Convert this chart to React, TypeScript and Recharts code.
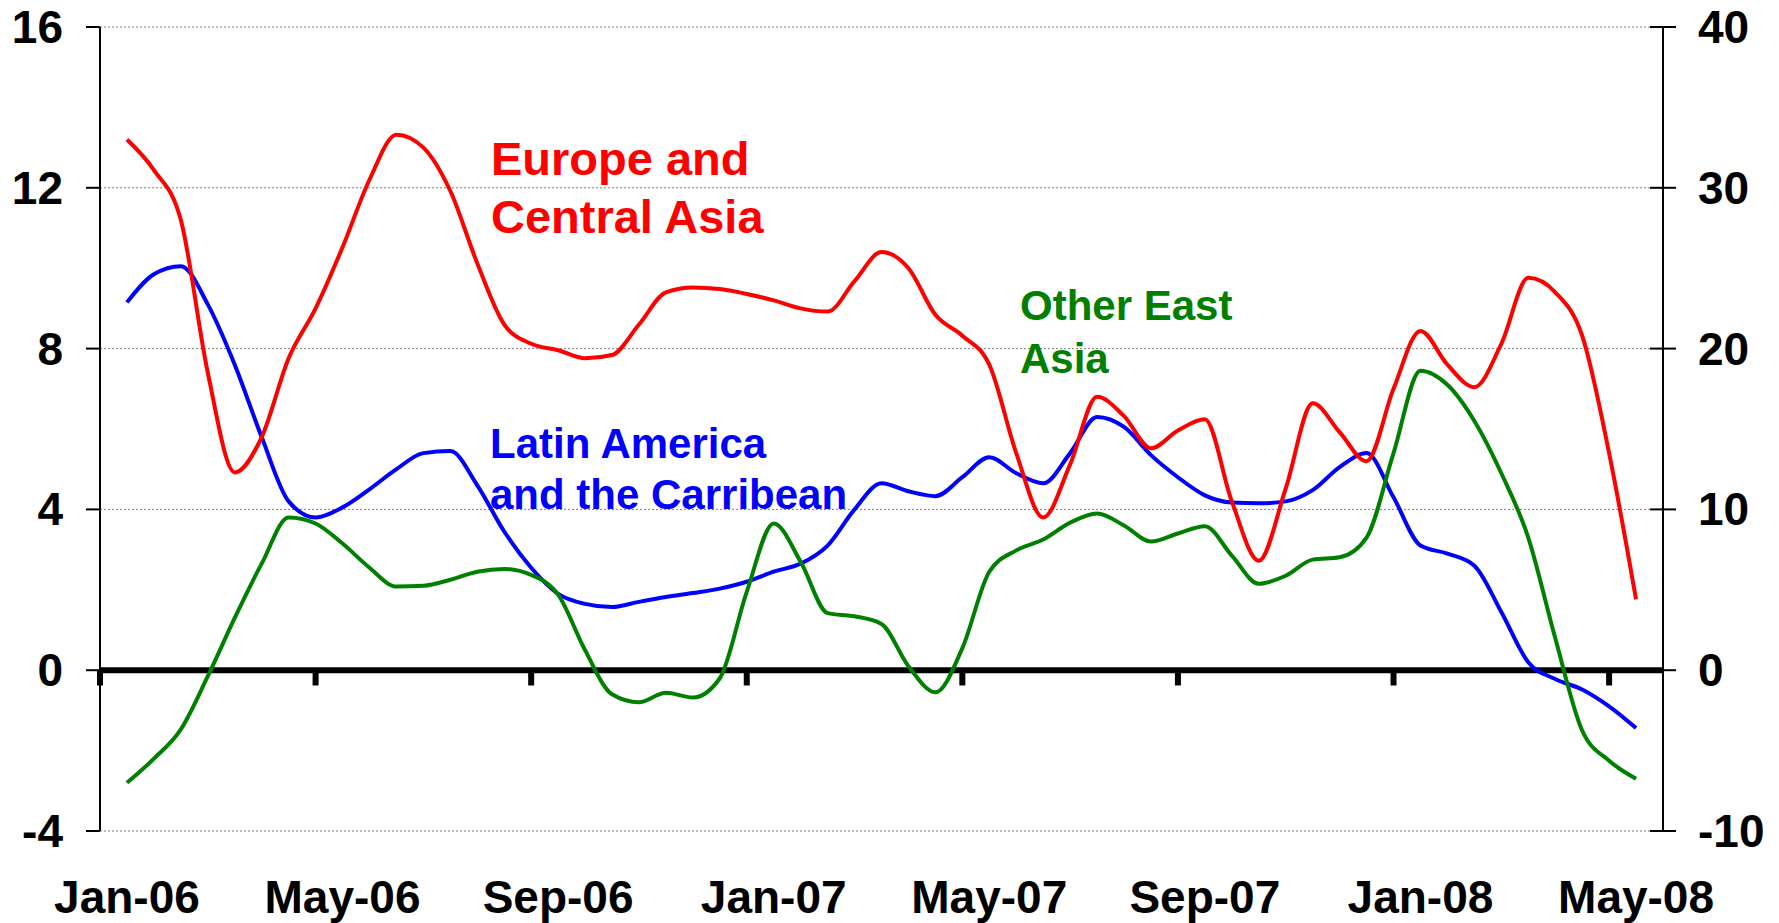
import { LineChart, Line, XAxis, YAxis, CartesianGrid, ReferenceLine } from "recharts";

const FONT = "Arial, 'Liberation Sans', Helvetica, sans-serif";

// Readings every half month, first point mid Jan-06, last point mid May-08
// Europe and Central Asia is read on the right-hand scale
const europe = [
  33.0, 31.1, 28.0, 18.5, 12.3, 14.5, 19.4, 22.5, 26.3, 30.5,
  33.3, 32.5, 29.8, 25.3, 21.5, 20.3, 19.9, 19.4, 19.6, 21.5,
  23.5, 23.8, 23.7, 23.4, 23.0, 22.5, 22.3, 24.2, 26.0, 25.0,
  22.1, 20.8, 19.0, 13.5, 9.5, 12.8, 17.0, 15.8, 13.8, 14.9,
  15.6, 10.5, 6.8, 11.3, 16.6, 14.8, 13.0, 17.5, 21.1, 19.0,
  17.6, 20.3, 24.4, 23.5, 20.8, 13.5, 4.4,
];
const latin = [
  9.15, 9.85, 10.05, 9.1, 7.6, 5.8, 4.2, 3.8, 4.05, 4.5,
  5.0, 5.4, 5.45, 4.6, 3.45, 2.55, 1.9, 1.65, 1.57, 1.7,
  1.82, 1.92, 2.03, 2.2, 2.45, 2.65, 3.1, 4.0, 4.65, 4.45,
  4.33, 4.8, 5.3, 4.9, 4.65, 5.4, 6.3, 6.05, 5.35, 4.8,
  4.35, 4.17, 4.15, 4.2, 4.48, 5.05, 5.4, 4.3, 3.1, 2.9,
  2.6, 1.45, 0.2, -0.22, -0.48, -0.9, -1.44,
];
const eastAsia = [
  -2.8, -2.2, -1.47, -0.15, 1.3, 2.65, 3.8, 3.65, 3.15, 2.55,
  2.08, 2.1, 2.25, 2.45, 2.52, 2.37, 1.88, 0.5, -0.6, -0.8,
  -0.56, -0.68, -0.2, 1.95, 3.65, 2.7, 1.42, 1.34, 1.15, 0.1,
  -0.55, 0.55, 2.45, 2.98, 3.25, 3.67, 3.9, 3.6, 3.2, 3.4,
  3.58, 2.85, 2.15, 2.35, 2.75, 2.81, 3.3, 5.4, 7.45, 7.1,
  6.2, 4.9, 3.3, 0.8, -1.5, -2.25, -2.7,
];

const monthLabels = ["Jan-06", "May-06", "Sep-06", "Jan-07", "May-07", "Sep-07", "Jan-08", "May-08"];
const labelPos = [0.5, 4.5, 8.5, 12.5, 16.5, 20.5, 24.5, 28.5];
const tickMarks = [0, 4, 8, 12, 16, 20, 24, 28];
const leftTicks = [-4, 0, 4, 8, 12, 16];
const rightTicks = [-10, 0, 10, 20, 30, 40];

const data = europe.map((v, i) => ({
  t: 0.5 + i * 0.5,
  europe: v,
  latin: latin[i],
  eastAsia: eastAsia[i],
}));

const tickText = { fontSize: 46, fontWeight: "bold" as const, fill: "#000", fontFamily: FONT };

const LeftTick = ({ x, y, payload }: any) => (
  <g>
    <line x1={x - 14} x2={x} y1={y} y2={y} stroke="#000" strokeWidth={2} />
    <text x={x - 37} y={y} dy={16} textAnchor="end" {...tickText}>
      {payload.value}
    </text>
  </g>
);

const RightTick = ({ x, y, payload }: any) => (
  <g>
    <line x1={x - 13} x2={x + 13} y1={y} y2={y} stroke="#000" strokeWidth={2} />
    <text x={x + 35} y={y} dy={16} textAnchor="start" {...tickText}>
      {payload.value}
    </text>
  </g>
);

const label = (color: string, size: number) => ({
  fill: color,
  fontSize: size,
  fontWeight: "bold" as const,
  fontFamily: FONT,
});

export default function App() {
  return (
    <div style={{ position: "absolute", left: 0, top: 0, width: 1779, height: 923, background: "#fff" }}>
      <LineChart width={1779} height={923} data={data} margin={{ top: 27, right: 0, bottom: 0, left: 0 }}>
        <CartesianGrid
          xAxisId="x"
          yAxisId="left"
          vertical={false}
          stroke="#808080"
          strokeDasharray="2 2"
        />
        <XAxis
          xAxisId="x"
          dataKey="t"
          type="number"
          domain={[0, 29]}
          ticks={labelPos}
          tickFormatter={(v: number) => monthLabels[labelPos.indexOf(v)] ?? ""}
          axisLine={false}
          tickLine={false}
          tickSize={0}
          tickMargin={49}
          height={92}
          tick={tickText}
          interval={0}
        />
        <YAxis
          yAxisId="left"
          domain={[-4, 16]}
          ticks={leftTicks}
          width={100}
          axisLine={{ stroke: "#000", strokeWidth: 2 }}
          tickLine={false}
          tickSize={0}
          tickMargin={0}
          tick={<LeftTick />}
          interval={0}
        />
        <YAxis
          yAxisId="right"
          orientation="right"
          domain={[-10, 40]}
          ticks={rightTicks}
          width={116}
          axisLine={{ stroke: "#000", strokeWidth: 2 }}
          tickLine={false}
          tickSize={0}
          tickMargin={0}
          tick={<RightTick />}
          interval={0}
        />
        <ReferenceLine xAxisId="x" yAxisId="left" y={0} stroke="#000" strokeWidth={6} />
        {tickMarks.map((m) => (
          <ReferenceLine
            key={m}
            xAxisId="x"
            yAxisId="left"
            segment={[{ x: m, y: 0 }, { x: m, y: -0.38 }]}
            stroke="#000"
            strokeWidth={6}
            ifOverflow="visible"
          />
        ))}
        <Line
          xAxisId="x"
          yAxisId="left"
          type="monotone"
          dataKey="latin"
          stroke="#0000FF"
          strokeWidth={4}
          dot={false}
          isAnimationActive={false}
        />
        <Line
          xAxisId="x"
          yAxisId="right"
          type="monotone"
          dataKey="europe"
          stroke="#FF0000"
          strokeWidth={4}
          dot={false}
          isAnimationActive={false}
        />
        <Line
          xAxisId="x"
          yAxisId="left"
          type="monotone"
          dataKey="eastAsia"
          stroke="#008000"
          strokeWidth={4}
          dot={false}
          isAnimationActive={false}
        />
      </LineChart>
      <svg
        width={1779}
        height={923}
        style={{ position: "absolute", left: 0, top: 0, pointerEvents: "none" }}
      >
        <text x={491} y={175} {...label("#FF0000", 47)}>Europe and</text>
        <text x={491} y={233} {...label("#FF0000", 47)}>Central Asia</text>
        <text x={490} y={458} {...label("#0000FF", 42)}>Latin America</text>
        <text x={490} y={509} {...label("#0000FF", 42)}>and the Carribean</text>
        <text x={1020} y={320} {...label("#008000", 42)}>Other East</text>
        <text x={1020} y={373} {...label("#008000", 42)}>Asia</text>
      </svg>
    </div>
  );
}
